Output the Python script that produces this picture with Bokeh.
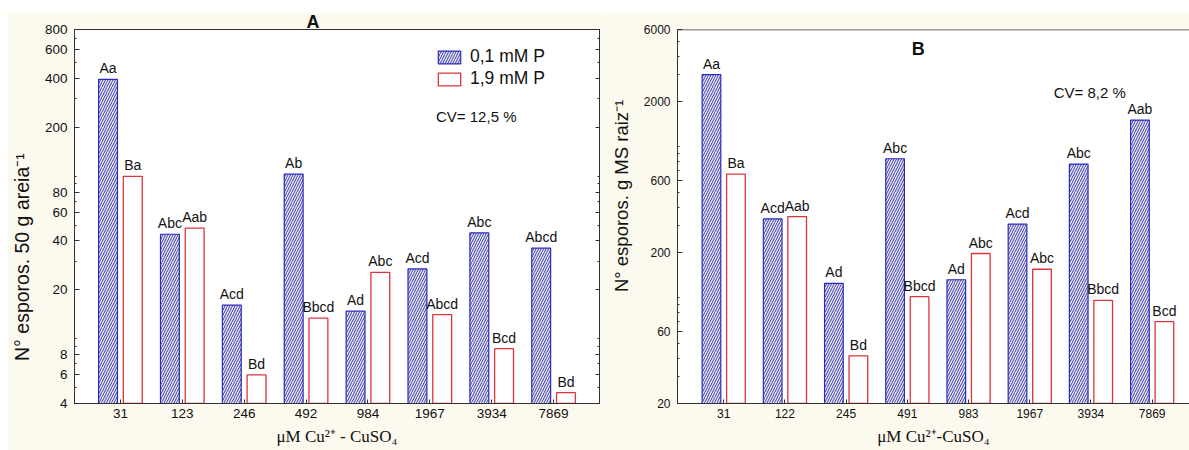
import numpy as np
from bokeh.plotting import figure
from bokeh.layouts import row
from bokeh.models import (ColumnDataSource, FixedTicker, LogAxis,
                          Legend, LegendItem, Label, Span)
from bokeh.transform import dodge
from bokeh.core.properties import value
from bokeh.embed import file_html
from bokeh.resources import INLINE

# ---------------- data ----------------
conc_a = ["31", "123", "246", "492", "984", "1967", "3934", "7869"]
low_p_a = [395, 44, 16.1, 103, 14.8, 26.9, 44.8, 36.1]      # 0,1 mM P
high_p_a = [100, 48, 6.0, 13.4, 25.6, 14.1, 8.7, 4.66]      # 1,9 mM P
lab_low_a = ["Aa", "Abc", "Acd", "Ab", "Ad", "Acd", "Abc", "Abcd"]
lab_high_a = ["Ba", "Aab", "Bd", "Bbcd", "Abc", "Abcd", "Bcd", "Bd"]
yticks_a = [4, 6, 8, 20, 40, 60, 80, 200, 400, 600, 800]

conc_b = ["31", "122", "245", "491", "983", "1967", "3934", "7869"]
low_p_b = [3016, 334, 125, 836, 132, 308, 770, 1508]
high_p_b = [662, 346, 41.4, 102, 197, 155, 96.4, 69.7]
lab_low_b = ["Aa", "Acd", "Ad", "Abc", "Ad", "Acd", "Abc", "Aab"]
lab_high_b = ["Ba", "Aab", "Bd", "Bbcd", "Abc", "Abc", "Bbcd", "Bcd"]
yticks_b = [20, 60, 200, 600, 2000, 6000]

series_names = ["0,1 mM P", "1,9 mM P"]

CREAM = "#FCF9EF"
SANS = "Liberation Sans"
SERIF = "Liberation Serif"
BLUE_LINE = "#2A2AC0"
RED_LINE = "#E0343C"
AXIS_COL = "#303030"
NBSP = "\u00a0"


def minor_for(lo, hi):
    out = []
    dec = 10 ** np.floor(np.log10(lo))
    while dec <= hi:
        for m in range(1, 10):
            v = m * dec
            if lo <= v <= hi:
                out.append(float(v))
        dec *= 10
    return out


def make_panel(conc, low, high, lab_low, lab_high, yticks, yr, xr, width,
               mb_left, mb_right, mb_bottom, tick_fs, ylab, xlab, ylab_fs,
               xlab_standoff):
    n = len(conc)
    src = ColumnDataSource(dict(x=list(range(n)), low=low, high=high,
                                lab_low=lab_low, lab_high=lab_high))
    p = figure(width=width, height=438, y_axis_type="log", y_range=yr,
               x_range=xr, output_backend="svg", toolbar_location=None,
               min_border_left=mb_left, min_border_right=mb_right,
               min_border_top=16, min_border_bottom=mb_bottom)
    p.border_fill_color = CREAM
    p.background_fill_color = "white"
    p.grid.visible = False
    p.outline_line_color = AXIS_COL

    r_low = p.vbar(x=dodge("x", -0.2, range=p.x_range), top="low", bottom=yr[0] / 10,
                   width=0.305, source=src, fill_color="#E9E9F7",
                   hatch_pattern="/", hatch_color="#3A3AA2", hatch_scale=5,
                   hatch_weight=1, line_color=BLUE_LINE, line_width=1.2)
    r_high = p.vbar(x=dodge("x", 0.2, range=p.x_range), top="high", bottom=yr[0] / 10,
                    width=0.305, source=src, fill_color="white",
                    line_color=RED_LINE, line_width=1.3)

    p.text(x=dodge("x", -0.2, range=p.x_range), y="low", text="lab_low", source=src,
           y_offset=-3, text_align="center", text_baseline="bottom",
           text_font=value(SANS), text_font_size="14px", text_color="#111111")
    p.text(x=dodge("x", 0.2, range=p.x_range), y="high", text="lab_high", source=src,
           y_offset=-3, text_align="center", text_baseline="bottom",
           text_font=value(SANS), text_font_size="14px", text_color="#111111")

    # y axis
    ya = p.yaxis[0]
    ya.ticker = FixedTicker(ticks=yticks, minor_ticks=minor_for(yr[0], yr[1]))
    ya.major_tick_in = 5
    ya.major_tick_out = 0
    ya.minor_tick_in = 2
    ya.minor_tick_out = 0
    ya.major_label_standoff = 7
    ya.major_label_text_font = SANS
    ya.major_label_text_font_size = tick_fs
    ya.major_label_text_color = "#111111"
    ya.axis_label = ylab
    ya.axis_label_text_font = SANS
    ya.axis_label_text_font_size = ylab_fs
    ya.axis_label_text_font_style = "normal"
    ya.axis_label_standoff = 9
    ya.axis_label_text_color = "#111111"
    ya.axis_line_color = AXIS_COL
    ya.major_tick_line_color = AXIS_COL
    ya.minor_tick_line_color = AXIS_COL

    # x axis
    xa = p.xaxis[0]
    xa.ticker = FixedTicker(ticks=list(range(n)))
    xa.major_label_overrides = {i: c for i, c in enumerate(conc)}
    xa.major_tick_in = 4
    xa.major_tick_out = 0
    xa.minor_tick_line_color = None
    xa.major_label_standoff = 5
    xa.major_label_text_font = SANS
    xa.major_label_text_font_size = tick_fs
    xa.major_label_text_color = "#111111"
    xa.axis_label = xlab
    xa.axis_label_text_font = SERIF
    xa.axis_label_text_font_size = "17px"
    xa.axis_label_text_font_style = "normal"
    xa.axis_label_standoff = xlab_standoff
    xa.axis_label_text_color = "#111111"
    xa.axis_line_color = AXIS_COL
    xa.major_tick_line_color = AXIS_COL
    return p, r_low, r_high


# ---------------- panel A ----------------
pA, rAl, rAh = make_panel(conc_a, low_p_a, high_p_a, lab_low_a, lab_high_a,
                          yticks_a, (4, 800), (-0.742, 7.742), 598,
                          66, 6, 47, "13.5px",
                          "N° esporos. 50 g areia⁻¹" + NBSP * 15,
                          "μM Cu²⁺ - CuSO₄", "19.5px", 6)

ra = LogAxis(ticker=FixedTicker(ticks=yticks_a, minor_ticks=minor_for(4, 800)),
             major_label_text_font_size="1px", major_label_text_color=None,
             major_label_standoff=0,
             major_tick_in=4, major_tick_out=0, minor_tick_in=2, minor_tick_out=0,
             axis_line_color=AXIS_COL, major_tick_line_color=AXIS_COL,
             minor_tick_line_color=AXIS_COL)
pA.add_layout(ra, "right")

legend = Legend(items=[LegendItem(label=series_names[0], renderers=[rAl]),
                       LegendItem(label=series_names[1], renderers=[rAh])],
                location=(361, 314), orientation="vertical",
                glyph_width=28, glyph_height=16, label_height=20, spacing=1,
                padding=0, margin=0, label_standoff=7,
                label_text_font=SANS, label_text_font_size="17.5px",
                label_text_color="#111111",
                border_line_color=None, background_fill_alpha=0)
pA.add_layout(legend)

pA.title.text = "A"
pA.title.text_font = SANS
pA.title.text_font_size = "18px"
pA.title.text_font_style = "bold"
pA.title.text_color = "#111111"
pA.title.align = "left"
pA.title.offset = 232
pA.title.standoff = -5

pA.add_layout(Label(x=5.10, y=234, text="CV= 12,5 %", text_font=SANS,
                    text_font_size="15px", text_align="left",
                    text_baseline="middle", text_color="#111111"))

# ---------------- panel B ----------------
pB, rBl, rBh = make_panel(conc_b, low_p_b, high_p_b, lab_low_b, lab_high_b,
                          yticks_b, (20, 6000), (-0.755, 7.61), 584,
                          72, 0, 46, "12px",
                          NBSP * 8 + "N° esporos. g MS raiz⁻¹",
                          "μM Cu²⁺-CuSO₄", "18.5px", 6)
pB.outline_line_color = None
pB.add_layout(Span(location=yticks_b[-1], dimension="width",
                   line_color=AXIS_COL, line_width=1.5))

pB.add_layout(Label(x=3.18, y=4426, text="B", text_font=SANS, text_font_size="18px",
                    text_font_style="bold", text_align="center",
                    text_baseline="middle", text_color="#111111"))
pB.add_layout(Label(x=5.98, y=2281, text="CV= 8,2 %", text_font=SANS,
                    text_font_size="15px", text_align="center",
                    text_baseline="middle", text_color="#111111"))

layout = row(pA, pB, margin=(12, 0, 0, 7))
open("out.html", "w").write(file_html(layout, INLINE))
